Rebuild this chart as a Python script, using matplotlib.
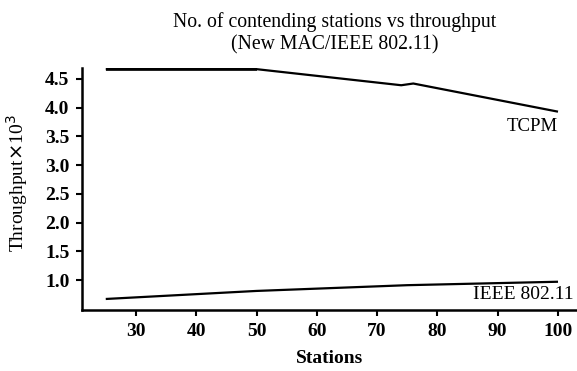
import matplotlib
matplotlib.use("Agg")
import matplotlib.pyplot as plt
import numpy as np

# values
stations_tcpm = [25, 50, 74, 76, 100]
tcpm = [4.67, 4.67, 4.39, 4.42, 3.93]

stations_ieee = [25, 50, 75, 100]
ieee = [0.67, 0.81, 0.91, 0.97]

xticks = [30, 40, 50, 60, 70, 80, 90, 100]
yticks = [1.0, 1.5, 2.0, 2.5, 3.0, 3.5, 4.0, 4.5]

plt.rcParams['font.family'] = ['Liberation Serif', 'DejaVu Serif']

fig = plt.figure(figsize=(5.77, 3.71), dpi=100)
ax = fig.add_axes([0.142, 0.1644, 0.858, 0.6523])

ax.plot(stations_tcpm, tcpm, color='black', lw=1.6, solid_capstyle='butt')
# the flat first stretch is drawn heavier in the original
ax.plot(stations_tcpm[:2], tcpm[:2], color='black', lw=2.6, solid_capstyle='butt')
ax.plot(stations_ieee, ieee, color='black', lw=1.6, solid_capstyle='butt')

ax.text(100, 3.68, 'TCPM', ha='right', va='center', fontsize=13.5)
ax.text(102.6, 0.74, 'IEEE 802.11', ha='right', va='center', fontsize=14)

ax.set_xlim(21.05, 103.15)
ax.set_ylim(0.478, 4.69)
ax.set_xticks(xticks)
ax.set_yticks(yticks)
ax.set_yticklabels([f'{v:.1f}' for v in yticks])

for s in ['top', 'right']:
    ax.spines[s].set_visible(False)
for s in ['left', 'bottom']:
    ax.spines[s].set_linewidth(1.8)

ax.tick_params(direction='out', length=4, width=1.5, labelsize=14, pad=5)
for lab in ax.get_xticklabels() + ax.get_yticklabels():
    lab.set_fontweight('bold')

ax.set_xlabel('Stations', fontsize=14, fontweight='bold')
ax.set_ylabel(r'Throughput$\times$10$^3$', fontsize=14)
ax.xaxis.set_label_coords(0.50, -0.165)
ax.yaxis.set_label_coords(-0.105, 0.525)

fig.text(0.58, 0.968, 'No. of contending stations vs throughput\n(New MAC/IEEE 802.11)',
         ha='center', va='top', fontsize=14.2, linespacing=1.25)

fig.savefig('out.png', dpi=100)
